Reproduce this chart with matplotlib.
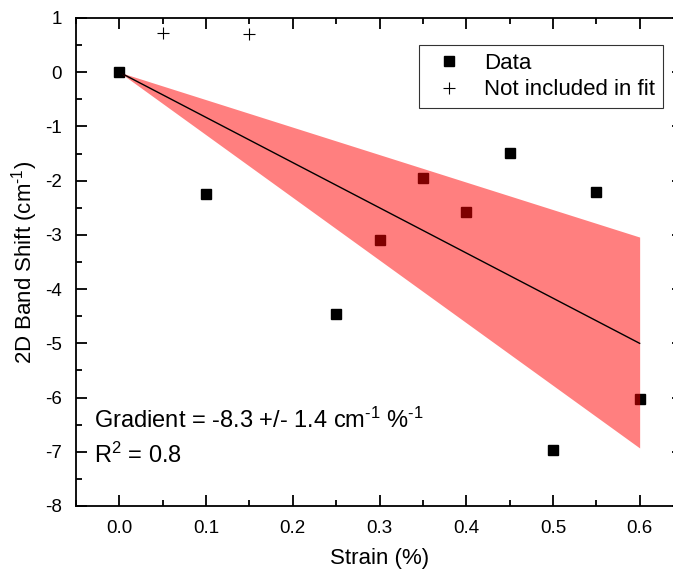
import numpy as np
import matplotlib
matplotlib.use('Agg')
import matplotlib.pyplot as plt
from matplotlib.ticker import MultipleLocator

# ---- data ----
strain = [0.0, 0.1, 0.25, 0.3, 0.35, 0.4, 0.45, 0.5, 0.55, 0.6]
shift = [0.0, -2.24, -4.45, -3.1, -1.96, -2.58, -1.49, -6.96, -2.21, -6.03]
excl_strain = [0.05, 0.15]
excl_shift = [0.72, 0.70]

fit_x = [0.0, 0.6]
fit_y = [0.0, -5.0]
band_upper = [0.0, -3.04]
band_lower = [0.0, -6.93]

x_ticks = [0.0, 0.1, 0.2, 0.3, 0.4, 0.5, 0.6]
y_ticks = [-8, -7, -6, -5, -4, -3, -2, -1, 0, 1]

plt.rcParams.update({
    'font.family': 'Liberation Sans',
    'mathtext.fontset': 'custom',
    'mathtext.rm': 'Liberation Sans',
    'mathtext.it': 'Liberation Sans',
    'mathtext.default': 'regular',
    'axes.linewidth': 1.3,
})

fig = plt.figure(figsize=(6.73, 5.79), dpi=100)
ax = fig.add_axes([76 / 673, 73 / 579, 607 / 673, 488 / 579])

ax.plot(strain, shift, 's', color='black', markersize=7.5, label='Data', zorder=2)
ax.plot(excl_strain, excl_shift, '+', color='black', markersize=9, markeredgewidth=0.8,
        label='Not included in fit', zorder=2)
ax.fill_between(fit_x, band_lower, band_upper, color='red', alpha=0.5, linewidth=0, zorder=3)
ax.plot(fit_x, fit_y, color='black', linewidth=1.0, zorder=4)

ax.set_xlim(-0.05, 0.65)
ax.set_ylim(-8, 1)
ax.xaxis.set_minor_locator(MultipleLocator(0.05))
ax.yaxis.set_minor_locator(MultipleLocator(0.5))
ax.set_xticks(x_ticks)
ax.set_xticklabels([f'{v:.1f}' for v in x_ticks])
ax.set_yticks(y_ticks)
ax.set_yticklabels([str(v) for v in y_ticks])
ax.tick_params(which='both', direction='in', top=True, right=True, labelsize=13.5, width=1.3)
ax.tick_params(which='major', length=8, pad=10)
ax.tick_params(which='minor', length=4)

ax.set_xlabel('Strain (%)', fontsize=16, labelpad=8)
ax.set_ylabel(r'2D Band Shift (cm$^{\text{-}1}$)', fontsize=16, labelpad=4)

ax.text(94 / 673, 1 - 428 / 579, r'Gradient = -8.3 +/- 1.4 cm$^{\text{-}1}$ %$^{\text{-}1}$',
        transform=fig.transFigure, fontsize=17, va='baseline')
ax.text(94 / 673, 1 - 463 / 579, r'R$^{2}$ = 0.8',
        transform=fig.transFigure, fontsize=17, va='baseline')

leg = ax.legend(loc='upper right', bbox_to_anchor=(663 / 673, 1 - 45 / 579),
                bbox_transform=fig.transFigure, fontsize=16, frameon=True, fancybox=False,
                edgecolor='black', borderpad=0.35, borderaxespad=0, handletextpad=0.6,
                labelspacing=0.25)
leg.get_frame().set_linewidth(0.8)

fig.savefig('out.png', dpi=100)
